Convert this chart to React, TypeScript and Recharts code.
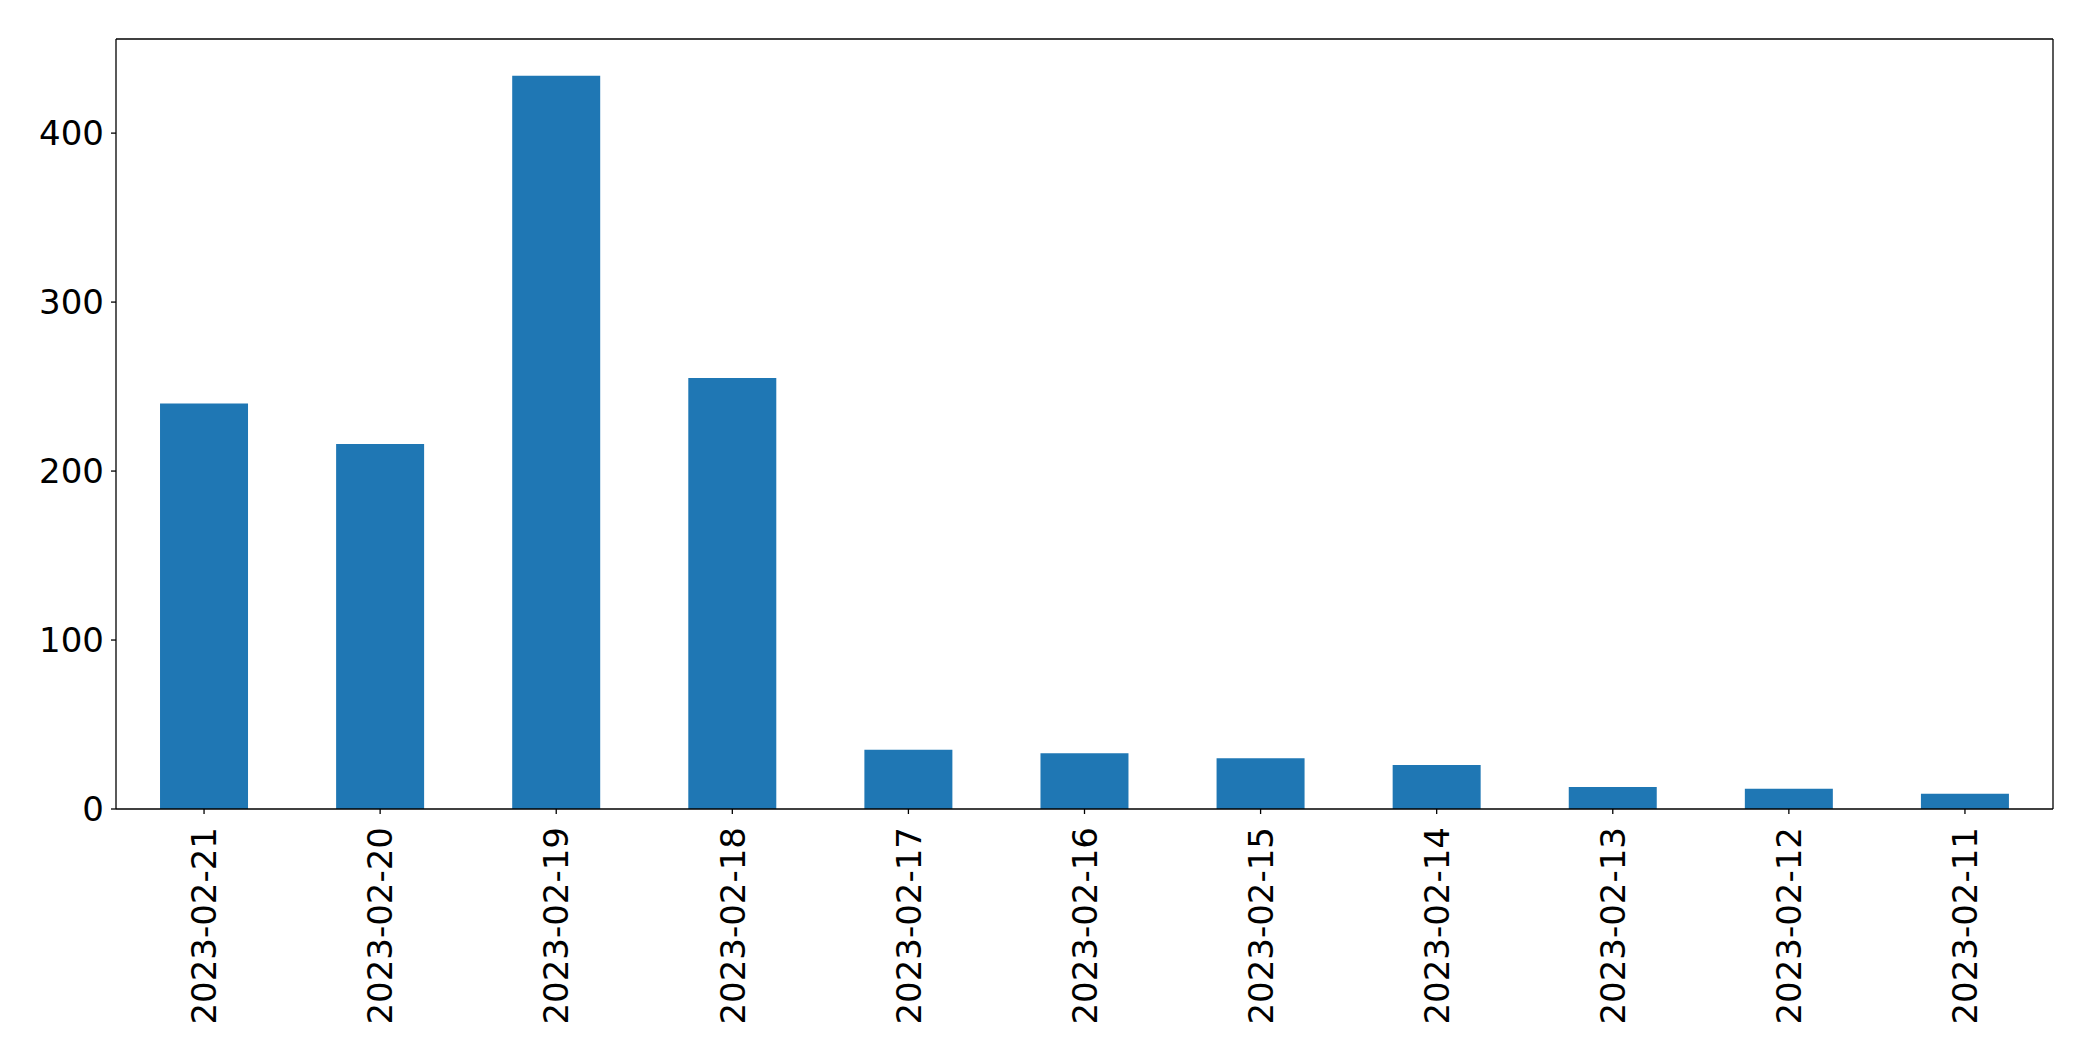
import { Bar, BarChart, CartesianGrid, XAxis, YAxis } from "recharts";

const dates = [
  "2023-02-21",
  "2023-02-20",
  "2023-02-19",
  "2023-02-18",
  "2023-02-17",
  "2023-02-16",
  "2023-02-15",
  "2023-02-14",
  "2023-02-13",
  "2023-02-12",
  "2023-02-11"
];
const counts = [240, 216, 434, 255, 35, 33, 30, 26, 13, 12, 9];
const yTicks = [0, 100, 200, 300, 400];

const data = dates.map((d, i) => ({ date: d, count: counts[i] }));

const FONT = "DejaVu Sans";
const axisStyle = { stroke: "#000", strokeWidth: 1.3 };

function DateTick(props: any) {
  const { x, y, payload } = props;
  return (
    <text
      x={x}
      y={y}
      dy="0.36em"
      transform={`rotate(-90, ${x}, ${y})`}
      textAnchor="end"
      fontFamily={FONT}
      fontSize={34}
      fill="#000"
    >
      {payload.value}
    </text>
  );
}

// frame lines on the top and right edges of the plot area
const topEdge = ({ offset }: any) => [offset.top];
const rightEdge = ({ offset }: any) => [offset.left + offset.width];

export default function App() {
  return (
    <div style={{ position: "absolute", left: 0, top: 0, background: "#fff" }}>
      <BarChart
        width={2093}
        height={1061}
        data={data}
        margin={{ top: 39, right: 40, left: 0, bottom: 0 }}
        barCategoryGap="25%"
      >
        <CartesianGrid
          stroke="#000"
          strokeWidth={1.3}
          horizontalCoordinatesGenerator={topEdge}
          verticalCoordinatesGenerator={rightEdge}
        />
        <XAxis
          dataKey="date"
          height={252}
          interval={0}
          tickSize={5}
          tickMargin={13}
          tick={<DateTick />}
          axisLine={axisStyle}
          tickLine={axisStyle}
        />
        <YAxis
          type="number"
          width={116}
          domain={[0, 455.7]}
          ticks={yTicks}
          tickSize={5}
          tickMargin={7}
          tick={{ fill: "#000", fontSize: 34, fontFamily: FONT }}
          axisLine={axisStyle}
          tickLine={axisStyle}
        />
        <Bar dataKey="count" fill="#1f77b4" isAnimationActive={false} />
      </BarChart>
    </div>
  );
}
